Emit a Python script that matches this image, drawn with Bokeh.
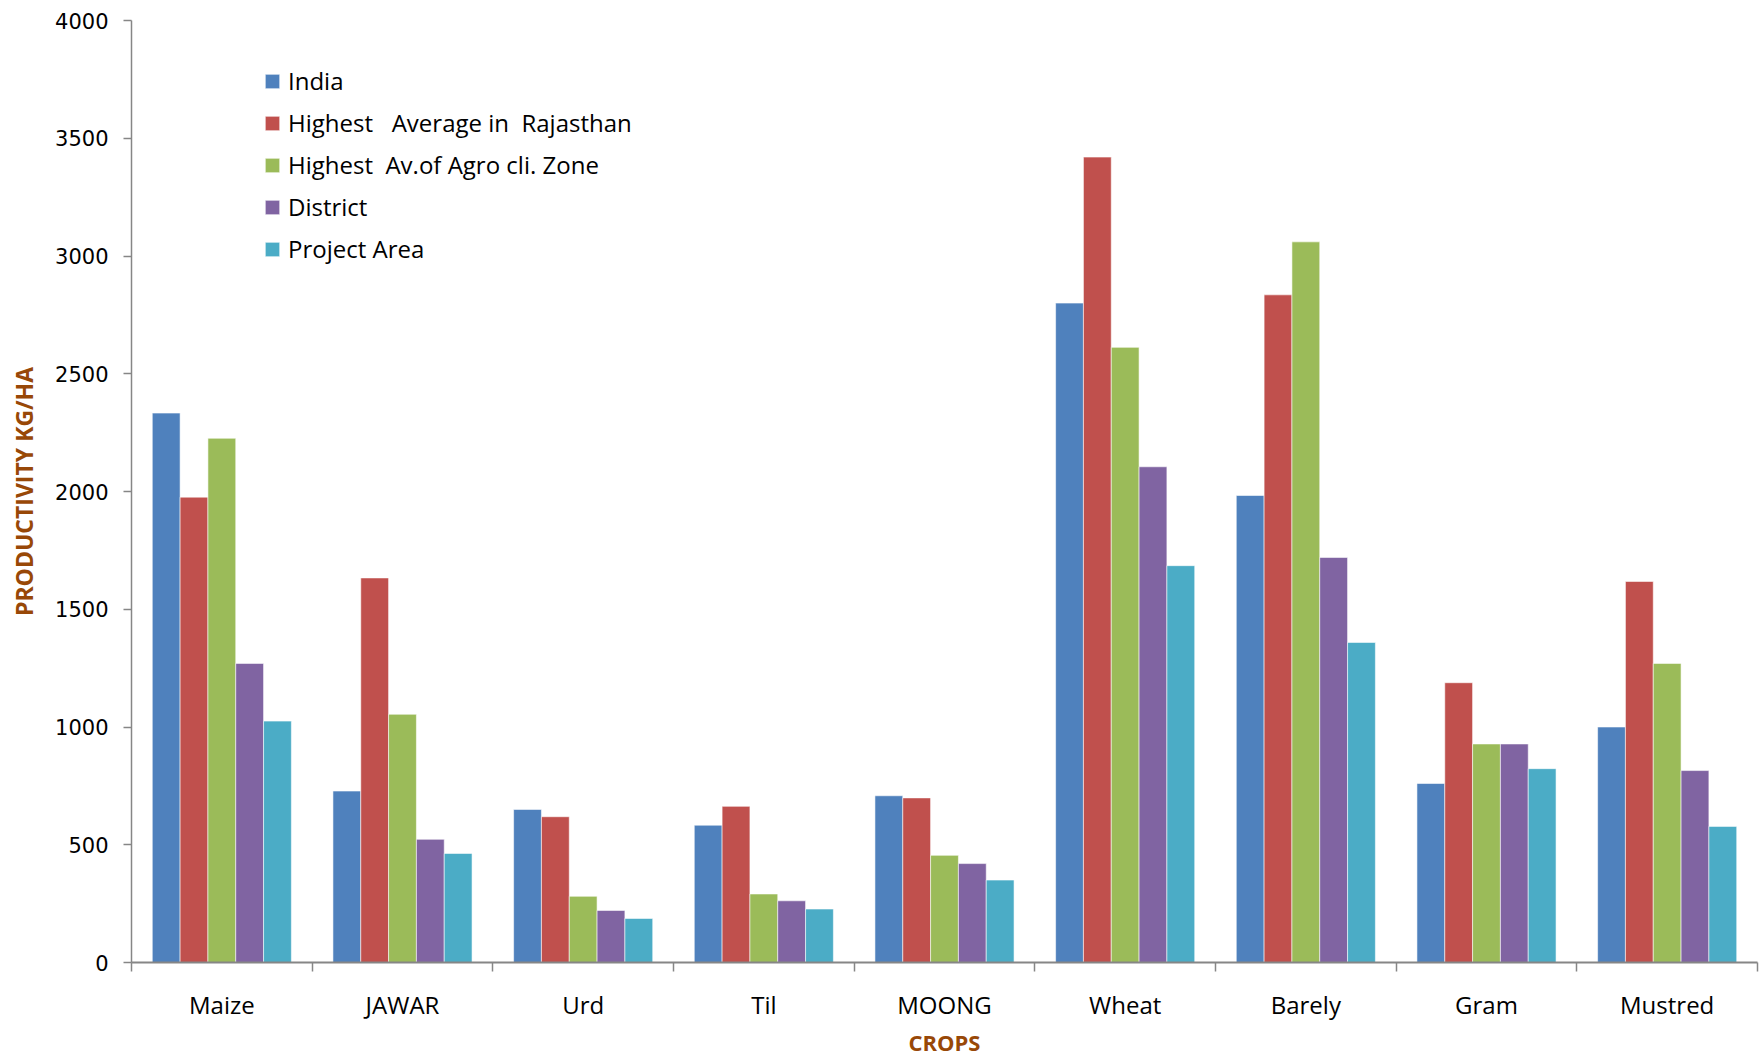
from bokeh.plotting import figure
from bokeh.models import FixedTicker, Range1d, Legend, LegendItem
from bokeh.embed import file_html
from bokeh.resources import INLINE

crops = ["Maize", "JAWAR", "Urd", "Til", "MOONG", "Wheat", "Barely", "Gram", "Mustred"]
series_names = ["India", "Highest   Average in  Rajasthan", "Highest  Av.of Agro cli. Zone",
                "District", "Project Area"]
india = [2333, 728, 650, 583, 708, 2800, 1983, 760, 1000]
rajasthan = [1976, 1633, 619, 663, 699, 3420, 2835, 1188, 1618]
agro_zone = [2226, 1054, 281, 291, 455, 2612, 3060, 928, 1270]
district = [1270, 523, 221, 262, 420, 2105, 1720, 928, 815]
project_area = [1025, 463, 187, 227, 350, 1685, 1359, 823, 578]
y_ticks = [0, 500, 1000, 1500, 2000, 2500, 3000, 3500, 4000]
x_title = "CROPS"
y_title = "PRODUCTIVITY KG/HA"

series = [india, rajasthan, agro_zone, district, project_area]
colors = ["#4F81BD", "#C0504D", "#9BBB59", "#8064A2", "#4BACC6"]

CAL = "Open Sans"
BROWN = "#984807"
AXIS = "#868686"

p = figure(width=1761, height=1060, output_backend="svg", toolbar_location=None,
           x_range=Range1d(0, len(crops)), y_range=Range1d(0, 4000),
           min_border_left=131, min_border_right=4, min_border_top=20, min_border_bottom=98)
p.outline_line_color = None
p.xgrid.visible = False
p.ygrid.visible = False

bar_w = 0.154
offsets = [(-2 + k) * bar_w for k in range(5)]
items = []
for k, (vals, col, name) in enumerate(zip(series, colors, series_names)):
    xs = [i + 0.5 + offsets[k] for i in range(len(crops))]
    r = p.vbar(x=xs, top=vals, width=bar_w, bottom=0, fill_color=col,
               line_color="white", line_width=0.8, line_alpha=0.7)
    items.append(LegendItem(label=name, renderers=[r]))

legend = Legend(items=items, location=(132, 697))
legend.border_line_color = None
legend.background_fill_alpha = 0
legend.padding = 0
legend.margin = 0
legend.spacing = 9
legend.glyph_width = 18
legend.glyph_height = 18
legend.label_height = 30
legend.label_standoff = 7
legend.label_text_font = CAL
legend.label_text_font_size = "24px"
legend.label_text_color = "black"
p.add_layout(legend, "center")

# y axis
ya = p.yaxis[0]
ya.ticker = FixedTicker(ticks=y_ticks)
ya.axis_line_color = AXIS
ya.axis_line_width = 1.5
ya.major_tick_line_color = AXIS
ya.major_tick_line_width = 1.5
ya.major_tick_out = 8
ya.major_tick_in = 0
ya.minor_tick_line_color = None
ya.major_label_text_font = "DejaVu Sans"
ya.major_label_text_font_size = "21px"
ya.major_label_text_color = "black"
ya.major_label_standoff = 15
ya.axis_label = y_title
ya.axis_label_text_font = CAL
ya.axis_label_text_font_style = "bold"
ya.axis_label_text_font_size = "23px"
ya.axis_label_text_color = BROWN
ya.axis_label_standoff = 12

# x axis
xa = p.xaxis[0]
xa.ticker = FixedTicker(ticks=[i + 0.5 for i in range(len(crops))],
                        minor_ticks=list(range(len(crops) + 1)))
xa.major_label_overrides = {i + 0.5: c for i, c in enumerate(crops)}
xa.axis_line_color = AXIS
xa.axis_line_width = 2
xa.major_tick_out = 0
xa.major_tick_in = 0
xa.minor_tick_line_color = AXIS
xa.minor_tick_line_width = 1.5
xa.minor_tick_out = 9
xa.minor_tick_in = 0
xa.major_label_text_font = CAL
xa.major_label_text_font_size = "24px"
xa.major_label_text_color = "black"
xa.major_label_standoff = 16
xa.axis_label = x_title
xa.axis_label_text_font = CAL
xa.axis_label_text_font_style = "bold"
xa.axis_label_text_font_size = "22px"
xa.axis_label_text_color = BROWN
xa.axis_label_standoff = 3

open("out.html", "w").write(file_html(p, INLINE))
